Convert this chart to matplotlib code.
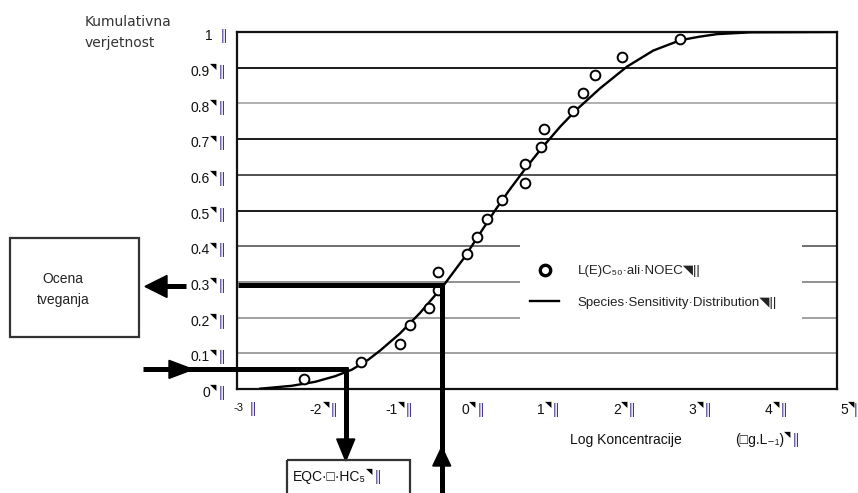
import matplotlib
matplotlib.use("Agg")
import matplotlib.pyplot as plt
from matplotlib.transforms import Affine2D
from matplotlib.patches import Rectangle, Polygon
from matplotlib.lines import Line2D

# ---------------- data ----------------
x_ticks = [-3, -2, -1, 0, 1, 2, 3, 4, 5]
x_tick_labels = ["-3", "-2", "-1", "0", "1", "2", "3", "4", "5"]
y_ticks = [0, 0.1, 0.2, 0.3, 0.4, 0.5, 0.6, 0.7, 0.8, 0.9, 1.0]
y_tick_labels = ["0", "0.1", "0.2", "0.3", "0.4", "0.5", "0.6", "0.7", "0.8", "0.9", "1"]

# observed L(E)C50 / NOEC values (log concentration, cumulative probability)
pts_x = [-2.11, -1.34, -0.83, -0.69, -0.44, -0.32, -0.32, 0.07, 0.20, 0.33,
         0.53, 0.84, 0.84, 1.06, 1.10, 1.48, 1.61, 1.77, 2.13, 2.91]
pts_y = [0.027, 0.077, 0.126, 0.180, 0.228, 0.276, 0.329, 0.377, 0.427, 0.477,
         0.530, 0.578, 0.630, 0.678, 0.729, 0.780, 0.829, 0.879, 0.930, 0.979]

# species sensitivity distribution curve
ssd_x = [-2.69, -2.58, -2.27, -1.96, -1.69, -1.47, -1.25, -1.09, -0.83, -0.56,
         -0.25, 0.02, 0.20, 0.44, 0.62, 0.84, 1.06, 1.31, 1.52, 1.84,
         2.20, 2.55, 2.91, 3.17, 3.40, 3.84, 5.00]
ssd_y = [0.001, 0.003, 0.009, 0.020, 0.036, 0.054, 0.082, 0.108, 0.155, 0.213,
         0.289, 0.365, 0.423, 0.500, 0.554, 0.616, 0.674, 0.735, 0.781, 0.842,
         0.903, 0.948, 0.977, 0.987, 0.994, 0.999, 1.000]

hc5_x, hc5_y = -1.55, 0.055      # EQC / HC5
risk_x, risk_y = -0.27, 0.29     # risk estimate level

grid_levels = [0.1, 0.2, 0.3, 0.4, 0.5, 0.6, 0.7, 0.8, 0.9]
grid_colors = ["#a0a0a0", "#a0a0a0", "#909090", "#707070", "#1a1a1a",
               "#505050", "#1a1a1a", "#b0b0b0", "#1a1a1a"]

legend_labels = ["L(E)C\u2085\u2080\u00b7ali\u00b7NOEC\u25e5||",
                 "Species\u00b7Sensitivity\u00b7Distribution\u25e5||"]

# ---------------- figure ----------------
W, H = 858, 493
plt.rcParams["font.family"] = ["Liberation Sans", "DejaVu Sans"]
fig = plt.figure(figsize=(W / 100, H / 100), dpi=100)
ax = fig.add_axes([237 / W, (H - 389) / H, 600 / W, 357 / H])
ax.set_xlim(-3, 5)
ax.set_ylim(0, 1)
ax.set_xticks(x_ticks)
ax.set_yticks(y_ticks)
ax.tick_params(length=0, labelbottom=False, labelleft=False)
for s in ax.spines.values():
    s.set_linewidth(1.6)
    s.set_color("#111111")

pix = Affine2D().scale(1, -1).translate(0, H)   # image-pixel coordinates


def d2p(x, y):
    dx, dy = ax.transData.transform((x, y))
    return dx, H - dy


for v, c in zip(grid_levels, grid_colors):
    ax.axhline(v, color=c, lw=1.4, zorder=1)

# white legend background (interrupts grid lines)
ax.add_patch(Rectangle((0.773, 0.15), 3.76, 0.30, facecolor="white",
                       edgecolor="none", zorder=1.5))

ax.plot(ssd_x, ssd_y, color="black", lw=1.7, zorder=3, solid_joinstyle="round")
ax.plot(pts_x, pts_y, "o", mfc="white", mec="black", mew=1.4, ms=7, zorder=4)

# legend
h1 = Line2D([], [], marker="o", ls="none", mfc="white", mec="black", mew=2.4, ms=7.5)
h2 = Line2D([], [], color="black", lw=1.7)
leg = ax.legend([h1, h2], legend_labels, loc="upper left",
                bbox_to_anchor=((530 - 237) / 600, (389 - 265) / 357),
                frameon=False, borderpad=0, borderaxespad=0, fontsize=9.5,
                handlelength=2.2, handletextpad=1.4, labelspacing=1.45)
for t in leg.get_texts():
    t.set_color("#222222")

bar_col = "#4a3590"
bar_kw = dict(fontsize=10, color=bar_col, annotation_clip=False)

# y tick labels
for v, lbl in zip(y_ticks, y_tick_labels):
    t = ax.annotate(lbl, xy=(0, v), xycoords=ax.get_yaxis_transform(),
                    xytext=(-27 * 0.72 if lbl != "1" else -24 * 0.72, -3),
                    textcoords="offset points", ha="right", va="center",
                    fontsize=10, color="#111111", annotation_clip=False)
    if lbl != "1":
        ax.annotate("\u25e5", xy=(1, 1), xycoords=t, xytext=(0.2, 0.5),
                    textcoords="offset points", ha="left", va="top",
                    fontsize=6, color="black", annotation_clip=False)
    ax.annotate("||", xy=(1, 0.5), xycoords=t,
                xytext=(6.5 if lbl != "1" else 5.5, 0),
                textcoords="offset points", ha="left", va="center", **bar_kw)

# x tick labels
for v, lbl in zip(x_ticks, x_tick_labels):
    small = lbl == "-3"
    t = ax.annotate(lbl, xy=(v, 0), xycoords=ax.get_xaxis_transform(),
                    xytext=((-3 + 0.8 * (v + 3)) * 0.72, (-19 if small else -21) * 0.72),
                    textcoords="offset points", ha="left", va="center",
                    fontsize=8 if small else 10, color="#111111", annotation_clip=False)
    if not small:
        ax.annotate("\u25e5", xy=(1, 1), xycoords=t, xytext=(0.2, 0.5),
                    textcoords="offset points", ha="left", va="top",
                    fontsize=6, color="black", annotation_clip=False)
    ax.annotate("||" if lbl != "5" else "|", xy=(1, 0.5), xycoords=t,
                xytext=((6.0 if lbl != "5" else 4.2) if not small else 4.0, -1 if small else 0),
                textcoords="offset points", ha="left", va="center", **bar_kw)

# axis titles
fig.text(85, 22, "Kumulativna", transform=pix, ha="left", va="center",
         fontsize=10, family="DejaVu Sans", color="#333333")
fig.text(85, 43, "verjetnost", transform=pix, ha="left", va="center",
         fontsize=10, family="DejaVu Sans", color="#333333")

tx = fig.text(570, 440, "Log Koncentracije", transform=pix, ha="left",
              va="center", fontsize=10, color="#111111")
tu = fig.text(735, 440, "(\u25a1g.L\u208b\u2081)", transform=pix, ha="left",
              va="center", fontsize=10, color="#111111")
ax.annotate("\u25e5", xy=(1, 1), xycoords=tu, xytext=(0.2, 0.5),
            textcoords="offset points", ha="left", va="top", fontsize=6,
            annotation_clip=False)
ax.annotate("||", xy=(1, 0.5), xycoords=tu, xytext=(6.0, 0),
            textcoords="offset points", ha="left", va="center", **bar_kw)

# ---------- HC5 / risk construction lines and arrows ----------
lw_thick = 3.6
hx, hy = d2p(hc5_x, hc5_y)
rx, ry = d2p(risk_x, risk_y)

fig.add_artist(Line2D([143, hx + 2], [hy, hy], transform=pix, lw=lw_thick,
                      color="black", solid_capstyle="butt"))
fig.add_artist(Polygon([(169, hy - 9), (169, hy + 9), (193, hy)], closed=True,
                       transform=pix, color="black"))
fig.add_artist(Line2D([hx, hx], [hy - 2, 442], transform=pix, lw=lw_thick,
                      color="black", solid_capstyle="butt"))
fig.add_artist(Polygon([(hx - 9, 439), (hx + 9, 439), (hx, 461)], closed=True,
                       transform=pix, color="black"))

fig.add_artist(Line2D([238, rx + 2], [ry, ry], transform=pix, lw=lw_thick,
                      color="black", solid_capstyle="butt"))
fig.add_artist(Line2D([rx, rx], [ry - 2, 500], transform=pix, lw=lw_thick,
                      color="black", solid_capstyle="butt"))
fig.add_artist(Polygon([(rx - 9, 466), (rx + 9, 466), (rx, 447)], closed=True,
                       transform=pix, color="black"))

fig.add_artist(Line2D([164, 186], [ry + 1, ry + 1], transform=pix, lw=lw_thick,
                      color="black", solid_capstyle="butt"))
fig.add_artist(Polygon([(167, ry - 10), (167, ry + 12), (145, ry + 1)],
                       closed=True, transform=pix, color="black"))

# boxes
fig.add_artist(Rectangle((10, 238), 129, 99, transform=pix, fill=False,
                         lw=1.6, ec="#333333"))
fig.text(63, 279, "Ocena", transform=pix, ha="center", va="center",
         fontsize=10, color="#222222")
fig.text(63, 300, "tveganja", transform=pix, ha="center", va="center",
         fontsize=10, color="#222222")

fig.add_artist(Rectangle((287, 460), 123, 60, transform=pix, fill=False,
                         lw=1.6, ec="#333333"))
te = fig.text(293, 477, "EQC\u00b7\u25a1\u00b7HC\u2085", transform=pix,
              ha="left", va="center", fontsize=10, color="#111111")
ax.annotate("\u25e5", xy=(1, 1), xycoords=te, xytext=(0.2, 0.5),
            textcoords="offset points", ha="left", va="top", fontsize=6,
            annotation_clip=False)
ax.annotate("||", xy=(1, 0.5), xycoords=te, xytext=(6.0, 0),
            textcoords="offset points", ha="left", va="center", **bar_kw)

fig.savefig("out.png", dpi=100)
